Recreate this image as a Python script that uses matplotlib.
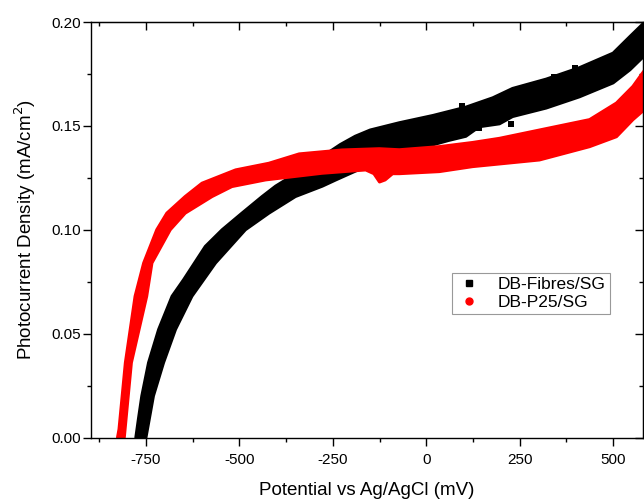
# Importamos NumPy para operaciones numéricas
import numpy as np
# Importamos matplotlib para generar gráficos
import matplotlib
matplotlib.use("Agg")
import matplotlib.pyplot as plt
from matplotlib.lines import Line2D
from matplotlib.ticker import MultipleLocator, AutoMinorLocator

# Bordes de la banda de puntos DB-Fibres/SG (potencial en mV, densidad en mA/cm2)
fib_sup_v = [-777, -770, -761, -743, -716, -680, -649, -591, -546, -493, -439, -403, -340, -280,
             -230, -190, -150, -72, 18, 106, 178, 231, 321, 410, 500, 545, 585]
fib_sup_i = [0.000, 0.009, 0.020, 0.036, 0.052, 0.068, 0.076, 0.092, 0.100, 0.108, 0.116, 0.121,
             0.128, 0.135, 0.141, 0.145, 0.148, 0.1515, 0.155, 0.159, 0.1635, 0.168, 0.1725, 0.178,
             0.185, 0.193, 0.200]
fib_inf_v = [-750, -730, -703, -671, -627, -564, -484, -421, -350, -278, -242, -180, -100, -20,
             60, 106, 142, 196, 231, 321, 410, 500, 545, 585]
fib_inf_i = [0.000, 0.020, 0.036, 0.052, 0.068, 0.084, 0.100, 0.108, 0.116, 0.121, 0.124, 0.129,
             0.135, 0.139, 0.143, 0.145, 0.1496, 0.151, 0.1545, 0.1586, 0.164, 0.1707, 0.177, 0.184]
# Puntos sueltos de la serie negra
fib_extra_v = [97, 142, 227, 343, 397]
fib_extra_i = [0.1596, 0.149, 0.151, 0.1737, 0.178]

# Bordes de la banda de puntos DB-P25/SG
p25_sup_v = [-826, -822, -805, -779, -756, -721, -694, -645, -600, -510, -421, -340, -225, -126,
             -72, 35, 124, 196, 303, 437, 509, 553, 585]
p25_sup_i = [0.000, 0.004, 0.036, 0.068, 0.084, 0.100, 0.108, 0.116, 0.1224, 0.1288, 0.132, 0.1365,
             0.1384, 0.139, 0.1385, 0.140, 0.142, 0.144, 0.148, 0.153, 0.161, 0.169, 0.177]
p25_inf_v = [-808, -789, -748, -734, -685, -645, -573, -520, -430, -279, -162, -140, -125, -110,
             -90, -72, 35, 124, 303, 437, 509, 553, 585]
p25_inf_i = [0.000, 0.036, 0.068, 0.084, 0.100, 0.108, 0.116, 0.1208, 0.124, 0.1272, 0.1288, 0.127,
             0.123, 0.124, 0.127, 0.127, 0.128, 0.1304, 0.1336, 0.140, 0.1448, 0.153, 0.158]

etiquetas = ["DB-Fibres/SG", "DB-P25/SG"]

# Fuente tipo Arial y guion normal en los números negativos
plt.rcParams["font.family"] = ["Liberation Sans", "DejaVu Sans"]
plt.rcParams["axes.unicode_minus"] = False

fig = plt.figure(figsize=(6.44, 4.99), dpi=100)
ax = fig.add_axes([91 / 644, 1 - 437.5 / 499, 552 / 644, 415.5 / 499])

# Dibujamos cada banda como un polígono: borde superior y borde inferior al revés
ax.fill(fib_sup_v + fib_inf_v[::-1], fib_sup_i + fib_inf_i[::-1], facecolor="black",
        edgecolor="black", lw=2.2, joinstyle="round")
ax.plot(fib_extra_v, fib_extra_i, "s", color="black", ms=4, mew=0)
ax.fill(p25_sup_v + p25_inf_v[::-1], p25_sup_i + p25_inf_i[::-1], facecolor="red",
        edgecolor="red", lw=2.2, joinstyle="round")

# Límites y marcas de los ejes
ax.set_xlim(-897, 580)
ax.set_ylim(0, 0.20)
ax.xaxis.set_major_locator(MultipleLocator(250))
ax.xaxis.set_minor_locator(AutoMinorLocator(2))
ax.yaxis.set_major_locator(MultipleLocator(0.05))
ax.yaxis.set_minor_locator(AutoMinorLocator(2))
ax.yaxis.set_major_formatter(plt.FormatStrFormatter("%.2f"))

for s in ax.spines.values():
    s.set_linewidth(1.0)
ax.tick_params(which="both", direction="out", width=1.0, labelsize=11)
ax.tick_params(which="major", length=6)
ax.tick_params(which="minor", length=3)
ax.tick_params(axis="x", pad=5)
ax.tick_params(axis="y", pad=1)
# Marcas hacia dentro en los ejes de arriba y derecha
ax2 = ax.secondary_xaxis("top")
ax2.xaxis.set_major_locator(MultipleLocator(250))
ax2.xaxis.set_minor_locator(AutoMinorLocator(2))
ax2.tick_params(which="both", direction="in", labeltop=False, width=1.0)
ax2.tick_params(which="major", length=6)
ax2.tick_params(which="minor", length=3)
ax3 = ax.secondary_yaxis("right")
ax3.yaxis.set_major_locator(MultipleLocator(0.05))
ax3.yaxis.set_minor_locator(AutoMinorLocator(2))
ax3.tick_params(which="both", direction="in", labelright=False, width=1.0)
ax3.tick_params(which="major", length=6)
ax3.tick_params(which="minor", length=3)

ax.set_xlabel("Potential vs Ag/AgCl (mV)", fontsize=13.5, labelpad=11)
ax.set_ylabel("Photocurrent Density (mA/cm$^2$)", fontsize=13.5, labelpad=10)

# Leyenda solo con marcadores
manejadores = [Line2D([], [], marker="s", color="black", ls="none", ms=4.5),
               Line2D([], [], marker="o", color="red", ls="none", ms=5)]
leg = ax.legend(manejadores, etiquetas, loc="lower left", bbox_to_anchor=(0.654, 0.297),
                fontsize=12.5, frameon=True, fancybox=False, framealpha=1, edgecolor="#999999",
                borderpad=0.25, labelspacing=0.15, handlelength=1.5, handletextpad=0.9,
                borderaxespad=0)
leg.get_frame().set_linewidth(0.8)

fig.savefig("out.png", dpi=100)
